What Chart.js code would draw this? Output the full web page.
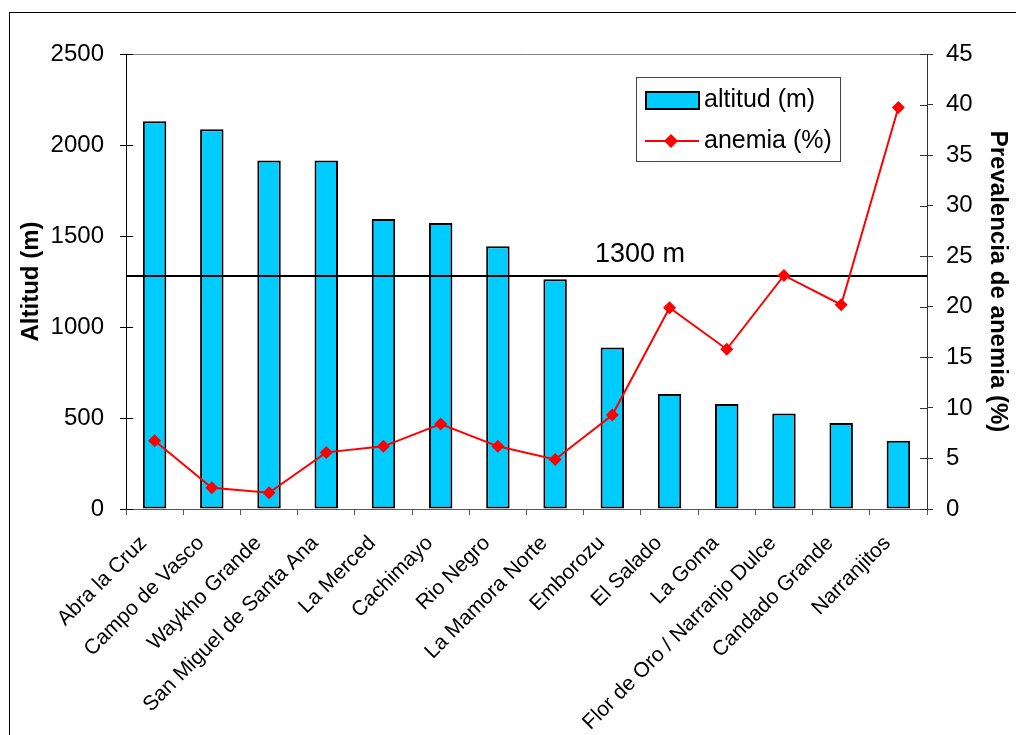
<!DOCTYPE html>
<html>
<head>
<meta charset="utf-8">
<script src="https://cdn.jsdelivr.net/npm/chart.js@4/dist/chart.umd.min.js"></script>
<style>
  html, body { margin: 0; padding: 0; background: #fff; }
  #wrap { width: 1016px; height: 735px; position: relative; }
</style>
</head>
<body>
<div id="wrap"><canvas id="c" width="1016" height="735"></canvas></div>
<script>
const categories = ["Abra la Cruz", "Campo de Vasco", "Waykho Grande", "San Miguel de Santa Ana",
  "La Merced", "Cachimayo", "Rio Negro", "La Mamora Norte", "Emborozu", "El Salado",
  "La Goma", "Flor de Oro / Narranjo Dulce", "Candado Grande", "Narranjitos"];
const altitud = [2130, 2086, 1915, 1915, 1593, 1571, 1443, 1262, 888, 632, 577, 525, 473, 375];
const anemia = [6.75, 2.1, 1.6, 5.6, 6.2, 8.4, 6.2, 4.9, 9.3, 19.9, 15.8, 23.1, 20.2, 39.7];
const refLineValue = 1280;
const refLineLabel = "1300 m";
const leftTitle = "Altitud (m)";
const rightTitle = "Prevalencia de anemia (%)";

const FONT = "'Liberation Sans', Arial, sans-serif";
const BAR_COLOR = "#00CCFF";
const LINE_COLOR = "#FF0000";

const decor = {
  id: 'decor',
  beforeDraw(chart) {
    const ctx = chart.ctx;
    ctx.save();
    ctx.fillStyle = '#fff';
    ctx.fillRect(0, 0, chart.width, chart.height);
    ctx.strokeStyle = '#000';
    ctx.lineWidth = 1;
    ctx.strokeRect(9.5, 12.5, 1200, 900);
    ctx.restore();
  },
  beforeDatasetsDraw(chart) {
    const ctx = chart.ctx, a = chart.chartArea;
    ctx.save();
    ctx.strokeStyle = '#808080';
    ctx.lineWidth = 1;
    ctx.beginPath();
    ctx.moveTo(a.left, Math.round(a.top) + 0.5);
    ctx.lineTo(a.right, Math.round(a.top) + 0.5);
    ctx.stroke();
    ctx.restore();
  },
  afterDatasetDraw(chart, args) {
    if (chart.data.datasets[args.index].type !== 'bar') return;
    const ctx = chart.ctx, a = chart.chartArea, ys = chart.scales.y;
    const py = ys.getPixelForValue(refLineValue);
    ctx.save();
    ctx.strokeStyle = '#000';
    ctx.lineWidth = 2;
    ctx.beginPath();
    ctx.moveTo(a.left, py);
    ctx.lineTo(a.right, py);
    ctx.stroke();
    ctx.fillStyle = '#000';
    ctx.font = "27px " + FONT;
    ctx.textAlign = 'center';
    ctx.textBaseline = 'alphabetic';
    ctx.fillText(refLineLabel, 640, py - 14);
    ctx.restore();
  },
  afterDraw(chart) {
    const ctx = chart.ctx;
    const ys = chart.scales.y, y1 = chart.scales.y1;
    ctx.save();
    ctx.lineWidth = 1;
    ctx.strokeStyle = '#000';
    ys.ticks.forEach(t => {
      const p = Math.round(ys.getPixelForValue(t.value)) + 0.5;
      ctx.beginPath(); ctx.moveTo(ys.right, p); ctx.lineTo(ys.right + 7, p); ctx.stroke();
    });
    ctx.strokeStyle = '#333';
    y1.ticks.forEach(t => {
      const p = Math.round(y1.getPixelForValue(t.value)) + 0.5;
      ctx.beginPath(); ctx.moveTo(y1.left - 7, p); ctx.lineTo(y1.left, p); ctx.stroke();
    });
    // legend
    const ds = chart.data.datasets;
    const barDs = ds.find(d => d.type === 'bar');
    const lineDs = ds.find(d => d.type === 'line');
    ctx.fillStyle = '#fff';
    ctx.fillRect(636.5, 77.5, 204, 84);
    ctx.strokeStyle = '#444';
    ctx.lineWidth = 1;
    ctx.strokeRect(636.5, 77.5, 204, 84);
    ctx.fillStyle = BAR_COLOR;
    ctx.fillRect(646, 92, 53, 17);
    ctx.strokeStyle = '#000';
    ctx.lineWidth = 2;
    ctx.strokeRect(646, 92, 53, 17);
    ctx.strokeStyle = LINE_COLOR;
    ctx.lineWidth = 2;
    ctx.beginPath(); ctx.moveTo(645, 141); ctx.lineTo(699, 141); ctx.stroke();
    ctx.fillStyle = LINE_COLOR;
    ctx.beginPath();
    ctx.moveTo(671, 134); ctx.lineTo(678, 141); ctx.lineTo(671, 148); ctx.lineTo(664, 141); ctx.closePath();
    ctx.fill();
    ctx.fillStyle = '#000';
    ctx.font = "25px " + FONT;
    ctx.textAlign = 'left';
    ctx.textBaseline = 'middle';
    ctx.fillText(barDs.label, 704, 100);
    ctx.fillText(lineDs.label, 704, 141);
    ctx.restore();
  }
};

new Chart(document.getElementById('c'), {
  data: {
    labels: categories,
    datasets: [
      {
        type: 'line',
        label: 'anemia (%)',
        data: anemia,
        yAxisID: 'y1',
        borderColor: LINE_COLOR,
        backgroundColor: LINE_COLOR,
        borderWidth: 2,
        pointStyle: 'rectRot',
        pointRadius: 6.5,
        pointBorderWidth: 0,
        pointBackgroundColor: LINE_COLOR,
        tension: 0,
        order: 0
      },
      {
        type: 'bar',
        label: 'altitud (m)',
        data: altitud,
        yAxisID: 'y',
        backgroundColor: BAR_COLOR,
        borderColor: '#000',
        borderWidth: 2,
        borderSkipped: false,
        categoryPercentage: 1,
        barPercentage: 0.41,
        order: 1
      }
    ]
  },
  options: {
    responsive: false,
    animation: false,
    devicePixelRatio: 1,
    layout: { padding: { top: 54, left: 0, right: 0, bottom: 0 } },
    plugins: { legend: { display: false }, tooltip: { enabled: false } },
    scales: {
      x: {
        position: 'bottom',
        offset: true,
        grid: { display: true, offset: true, drawOnChartArea: false, drawTicks: true, tickLength: 6, color: '#555' },
        border: { display: true, color: '#555', width: 1 },
        ticks: {
          autoSkip: false, maxRotation: 45, minRotation: 45,
          color: '#000', font: { family: FONT, size: 21 },
          padding: 16, labelOffset: -11
        },
        afterFit(s) { s.height = 226; }
      },
      y: {
        position: 'left',
        min: 0, max: 2500,
        grid: { display: true, drawOnChartArea: false, drawTicks: true, tickLength: 6, color: '#000' },
        border: { display: true, color: '#000', width: 1 },
        ticks: { stepSize: 500, color: '#000', font: { family: FONT, size: 24 }, padding: 16,
          callback: v => String(v) },
        title: { display: true, text: leftTitle, color: '#000', font: { family: FONT, size: 24, weight: 'bold' }, padding: { top: 17, bottom: 0 } },
        afterFit(s) { s.width = 126; }
      },
      y1: {
        position: 'right',
        min: 0, max: 45,
        grid: { display: true, drawOnChartArea: false, drawTicks: true, tickLength: 6, color: '#333' },
        border: { display: true, color: '#333', width: 1 },
        ticks: { stepSize: 5, color: '#000', font: { family: FONT, size: 24 }, padding: 13,
          callback: v => String(v) },
        title: { display: true, text: rightTitle, color: '#000', font: { family: FONT, size: 24, weight: 'bold' }, padding: { top: 4, bottom: 0 } },
        afterFit(s) { s.width = 89; }
      }
    }
  },
  plugins: [decor]
});
</script>
</body>
</html>
